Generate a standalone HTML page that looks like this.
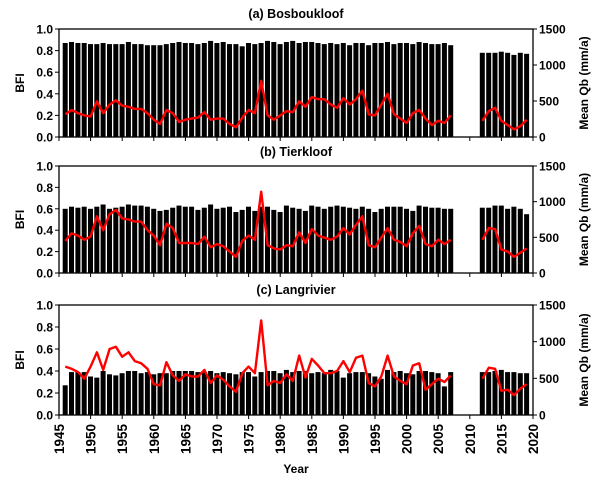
<!DOCTYPE html>
<html><head><meta charset="utf-8"><style>
html,body{margin:0;padding:0;background:#fff}
svg{display:block;font-family:"Liberation Sans",Arial,sans-serif;font-weight:bold}
</style></head><body>
<svg id="s" width="600" height="486" viewBox="0 0 600 486" xmlns="http://www.w3.org/2000/svg"></svg>
<script>
const X0=59,X1=533;
const xs=y=>X0+(y-1945)*(X1-X0)/75;
const years=[];for(let y=1946;y<=2007;y++)years.push(y);for(let y=2012;y<=2019;y++)years.push(y);
const panels=[
{t:"(a) Bosboukloof",ty:18,top:29,bot:137,
bars:years.map(y=>y>=2012?[0.78,0.78,0.78,0.79,0.78,0.76,0.78,0.77][y-2012]:[0.87,0.88,0.87,0.87,0.86,0.86,0.87,0.86,0.86,0.86,0.88,0.86,0.86,0.85,0.85,0.85,0.86,0.87,0.88,0.87,0.87,0.86,0.87,0.89,0.87,0.88,0.86,0.86,0.84,0.87,0.86,0.87,0.89,0.88,0.86,0.88,0.89,0.87,0.88,0.88,0.87,0.86,0.87,0.86,0.87,0.85,0.87,0.87,0.85,0.87,0.87,0.88,0.86,0.87,0.87,0.86,0.88,0.87,0.86,0.86,0.87,0.85][y-1946]),
line:[0.21,0.25,0.22,0.20,0.19,0.33,0.22,0.30,0.34,0.29,0.28,0.26,0.26,0.22,0.16,0.12,0.25,0.22,0.14,0.16,0.17,0.18,0.23,0.16,0.17,0.17,0.12,0.09,0.18,0.25,0.22,0.52,0.20,0.16,0.20,0.24,0.23,
0.33,0.28,0.37,0.35,0.35,0.30,0.27,0.36,0.30,0.35,0.43,0.21,0.20,0.30,0.40,0.21,0.17,0.13,0.22,0.25,0.17,0.11,0.15,0.13,0.20,
0.15,0.24,0.27,0.15,0.11,0.07,0.10,0.16]},
{t:"(b) Tierkloof",ty:156,top:166,bot:273,
bars:[0.60,0.62,0.61,0.62,0.60,0.62,0.64,0.60,0.61,0.62,0.64,0.63,0.63,0.62,0.60,0.58,0.59,0.61,0.63,0.62,0.62,0.59,0.61,0.64,0.60,0.61,0.62,0.57,0.59,0.62,0.58,0.62,0.62,0.59,0.57,0.63,0.61,0.60,0.58,0.63,0.62,0.60,0.62,0.63,0.62,0.61,0.60,0.62,0.60,0.57,0.60,0.62,0.62,0.62,0.60,0.58,0.63,0.62,0.61,0.61,0.60,0.60,0.61,0.61,0.63,0.63,0.60,0.62,0.60,0.55],
line:[0.30,0.37,0.35,0.31,0.34,0.53,0.40,0.55,0.59,0.51,0.50,0.48,0.48,0.40,0.35,0.26,0.46,0.42,0.28,0.28,0.28,0.27,0.34,0.24,0.27,0.25,0.20,0.15,0.30,0.35,0.31,0.76,0.26,0.23,0.22,0.26,0.25,0.38,0.28,0.41,0.35,0.33,0.31,0.34,0.42,0.36,0.45,0.53,0.26,0.24,0.33,0.42,0.31,0.29,0.25,0.37,0.44,0.27,0.25,0.31,0.27,0.31,0.31,0.42,0.41,0.22,0.20,0.15,0.19,0.23]},
{t:"(c) Langrivier",ty:294,top:305,bot:415,
bars:[0.27,0.39,0.39,0.39,0.35,0.34,0.40,0.37,0.36,0.38,0.40,0.40,0.38,0.39,0.37,0.38,0.38,0.40,0.40,0.40,0.40,0.39,0.39,0.40,0.38,0.39,0.38,0.37,0.39,0.39,0.35,0.39,0.40,0.40,0.38,0.41,0.39,0.40,0.40,0.38,0.39,0.38,0.41,0.40,0.34,0.38,0.39,0.39,0.38,0.35,0.33,0.41,0.39,0.40,0.38,0.37,0.40,0.40,0.39,0.38,0.26,0.39,
0.39,0.39,0.40,0.41,0.39,0.39,0.38,0.38],
line:[0.44,0.42,0.39,0.33,0.44,0.57,0.41,0.60,0.62,0.53,0.57,0.49,0.47,0.42,0.28,0.27,0.48,0.36,0.31,0.37,0.35,0.35,0.41,0.29,0.36,0.32,0.26,0.21,0.38,0.44,0.38,0.86,0.27,0.31,0.29,0.37,0.31,0.54,0.34,0.51,0.45,0.38,0.38,0.40,0.49,0.39,0.52,0.54,0.29,0.26,0.35,0.54,0.35,0.31,0.28,0.45,0.47,0.23,0.28,0.33,0.30,0.36,0.33,0.43,0.42,0.22,0.23,0.18,0.24,0.28]}
];
let h='';
panels.forEach((p,i)=>{
 const ys=v=>p.bot-v*(p.bot-p.top);
 h+=`<text x="296" y="${p.ty}" font-size="12.5" text-anchor="middle">${p.t}</text>`;
 years.forEach((y,k)=>{const v=p.bars[k];h+=`<rect x="${(xs(y)-2.6).toFixed(1)}" y="${ys(v).toFixed(1)}" width="5" height="${(p.bot-ys(v)).toFixed(1)}" fill="#000"/>`;});
 let seg1=[],seg2=[];
 years.forEach((y,k)=>{(y<2010?seg1:seg2).push(xs(y).toFixed(1)+','+ys(p.line[k]).toFixed(1));});
 [seg1,seg2].forEach(s=>h+=`<polyline points="${s.join(' ')}" fill="none" stroke="#f00" stroke-width="2.4" stroke-linejoin="round"/>`);
 h+=`<rect x="${X0}" y="${p.top}" width="${X1-X0}" height="${p.bot-p.top}" fill="none" stroke="#000" stroke-width="1.3"/>`;
 for(let t=0;t<=5;t++){const v=t*0.2,yy=ys(v);
  h+=`<line x1="${X0-4}" x2="${X0}" y1="${yy}" y2="${yy}" stroke="#000"/>`;
  h+=`<text x="${X0-6}" y="${yy+4.5}" font-size="12" text-anchor="end">${v.toFixed(1)}</text>`;}
 for(let t=0;t<=3;t++){const yy=ys(t/3);
  h+=`<line x1="${X1}" x2="${X1+4}" y1="${yy}" y2="${yy}" stroke="#000"/>`;
  h+=`<text x="${X1+6}" y="${yy+4.5}" font-size="12">${t*500}</text>`;}
 for(let y=1945;y<=2020;y+=5){h+=`<line x1="${xs(y)}" x2="${xs(y)}" y1="${p.bot}" y2="${p.bot+4}" stroke="#000"/>`;}
 const mid=(p.top+p.bot)/2;
 h+=`<text transform="translate(24,${mid}) rotate(-90)" font-size="12" text-anchor="middle">BFI</text>`;
 h+=`<text transform="translate(588,${mid}) rotate(-90)" font-size="12" text-anchor="middle">Mean Qb (mm/a)</text>`;
 if(i==2){for(let y=1945;y<=2020;y+=5){h+=`<text transform="translate(${xs(y)+5},424) rotate(-90)" font-size="13.5" text-anchor="end">${y}</text>`;}
  h+=`<text x="296" y="473" font-size="12" text-anchor="middle">Year</text>`;}
});
document.getElementById('s').innerHTML=h;
</script>
</body></html>
